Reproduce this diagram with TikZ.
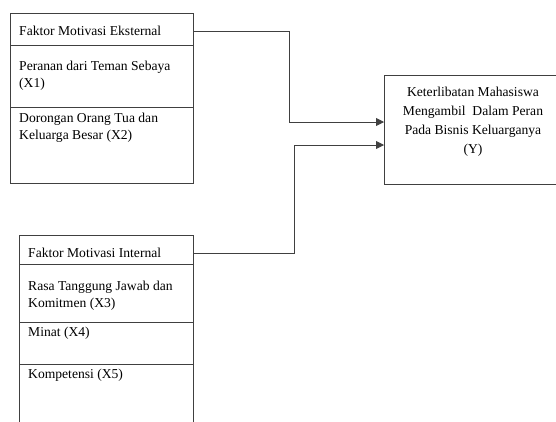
\documentclass[tikz,border=0pt]{standalone}
\usepackage{fontspec}
\setmainfont{Liberation Serif}
\usetikzlibrary{arrows.meta}
\begin{document}
\begin{tikzpicture}[x=1pt,y=-1pt,
  frame/.style={draw=black!75,line width=0.9pt},
  lbl/.style={anchor=base west,inner sep=0pt,font=\fontsize{13.6}{17.5}\selectfont,align=left},
  conn/.style={draw=black!75,line width=0.9pt,-{Triangle[length=8pt,width=8pt]}}]
\useasboundingbox (0,0) rectangle (556,421);
% box 1
\node[frame,minimum width=183pt,minimum height=170pt,anchor=north west,inner sep=0pt] (b1) at (10,13) {};
\draw[frame] (10,45) -- (193,45);
\draw[frame] (10,107) -- (193,107);
\node[lbl] (h1) at (19,35) {Faktor Motivasi Eksternal};
\node[lbl] (x1) at (19,87.5) {Peranan dari Teman Sebaya\\(X1)};
\node[lbl] (x2) at (19,139.5) {Dorongan Orang Tua dan\\Keluarga Besar (X2)};
% box 2 (open at bottom)
\draw[frame] (19,425) -- (19,235) -- (193,235) -- (193,425);
\draw[frame] (19,264) -- (193,264);
\draw[frame] (19,322) -- (193,322);
\draw[frame] (19,364) -- (193,364);
\node[lbl] (h2) at (28,257) {Faktor Motivasi Internal};
\node[lbl] (x3) at (28,307.5) {Rasa Tanggung Jawab dan\\Komitmen (X3)};
\node[lbl] (x4) at (28,336) {Minat (X4)};
\node[lbl] (x5) at (28,378) {Kompetensi (X5)};
% box Y
\draw[frame] (562,75) -- (384,75) -- (384,184) -- (562,184);
\node[anchor=base,inner sep=0pt,font=\fontsize{13.6}{18.7}\selectfont,align=center] (y) at (473,153) {Keterlibatan Mahasiswa\\Mengambil\ \ Dalam Peran\\Pada Bisnis Keluarganya\\(Y)};
% connectors
\coordinate (s1) at (193,31);
\coordinate (t1) at (384,122);
\coordinate (s2) at (193,253);
\coordinate (t2) at (384,145);
\draw[conn] (s1) -- (289,31) -- (289,122) -- (t1);
\draw[conn] (s2) -- (294,253) -- (294,145) -- (t2);
\end{tikzpicture}
\end{document}
